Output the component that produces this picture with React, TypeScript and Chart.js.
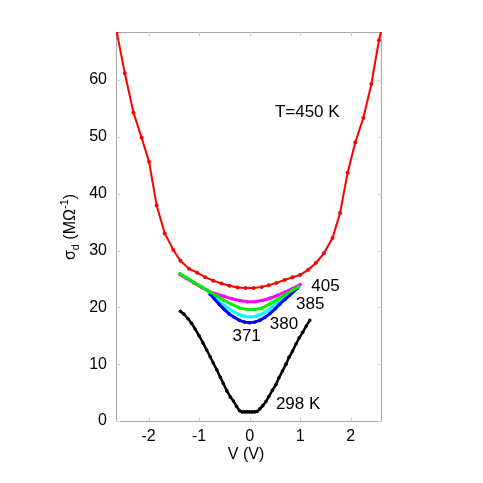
import React, { useEffect, useRef } from "react";
import { Chart, registerables } from "chart.js";

Chart.register(...registerables);

// T = 450 K
const v450 = [-2.63, -2.47, -2.30, -2.14, -1.99, -1.84, -1.68, -1.51, -1.37, -1.20, -1.04, -0.88, -0.72, -0.56, -0.40, -0.24, -0.08, 0.08, 0.24, 0.38, 0.53, 0.69, 0.85, 1.00, 1.16, 1.31, 1.47, 1.64, 1.79, 1.94, 2.09, 2.25, 2.41, 2.56, 2.68];
const s450 = [68.4, 61.2, 54.3, 49.9, 45.6, 37.9, 33.0, 30.1, 28.2, 26.8, 26.1, 25.3, 24.7, 24.2, 23.8, 23.5, 23.4, 23.4, 23.6, 23.9, 24.3, 24.8, 25.3, 25.7, 26.6, 27.8, 29.5, 32.2, 36.6, 43.7, 49.0, 53.3, 59.3, 67.0, 71.5];

// T = 405 K
const v405 = [-1.38, -1.25, -1.10, -0.95, -0.80, -0.65, -0.50, -0.35, -0.20, -0.05, 0.10, 0.25, 0.40, 0.55, 0.70, 0.85, 1.00];
const s405 = [25.8, 25.1, 24.3, 23.5, 22.8, 22.3, 21.9, 21.5, 21.2, 21.0, 21.0, 21.2, 21.6, 22.1, 22.7, 23.3, 24.0];

// T = 385 K
const v385 = [-1.38, -1.25, -1.10, -0.95, -0.80, -0.65, -0.50, -0.35, -0.20, -0.05, 0.10, 0.25, 0.40, 0.55, 0.70, 0.85, 0.97];
const s385 = [25.9, 25.2, 24.4, 23.6, 22.8, 22.0, 21.2, 20.5, 19.9, 19.6, 19.6, 19.9, 20.6, 21.4, 22.2, 23.0, 23.6];

// T = 380 K
const v380 = [-0.80, -0.70, -0.60, -0.50, -0.40, -0.30, -0.20, -0.10, 0.00, 0.10, 0.20, 0.30, 0.40, 0.50, 0.60, 0.70, 0.80, 0.95];
const s380 = [22.5, 21.8, 21.0, 20.3, 19.7, 19.1, 18.7, 18.4, 18.3, 18.4, 18.7, 19.1, 19.7, 20.4, 21.1, 21.8, 22.5, 23.4];

// T = 371 K
const v371 = [-0.78, -0.70, -0.60, -0.50, -0.40, -0.30, -0.20, -0.10, 0.00, 0.10, 0.20, 0.30, 0.40, 0.50, 0.60, 0.70, 0.80, 0.95];
const s371 = [22.3, 21.5, 20.5, 19.6, 18.8, 18.2, 17.7, 17.4, 17.3, 17.4, 17.7, 18.2, 18.9, 19.7, 20.6, 21.4, 22.2, 23.4];

// T = 298 K
const v298 = [-1.37, -1.30, -1.22, -1.15, -1.08, -1.00, -0.92, -0.85, -0.78, -0.72, -0.65, -0.58, -0.52, -0.45, -0.38, -0.32, -0.26, -0.20, -0.15, -0.10, -0.05, 0.00, 0.05, 0.10, 0.15, 0.20, 0.26, 0.32, 0.38, 0.45, 0.52, 0.58, 0.65, 0.72, 0.78, 0.85, 0.92, 0.98, 1.05, 1.12, 1.19];
const s298 = [19.3, 18.8, 18.0, 17.2, 16.2, 15.0, 13.7, 12.5, 11.3, 10.2, 9.0, 7.7, 6.6, 5.3, 4.2, 3.5, 2.6, 1.8, 1.6, 1.6, 1.6, 1.6, 1.6, 1.6, 1.7, 2.1, 2.7, 3.4, 4.3, 5.4, 6.4, 7.6, 8.8, 10.0, 11.2, 12.3, 13.6, 14.6, 15.6, 16.7, 17.7];

const xTicks = [-2, -1, 0, 1, 2];
const yTicks = [0, 10, 20, 30, 40, 50, 60];

const curveLabels = ["T=450 K", "405", "385", "380", "371", "298 K"];
const curveLabelAt: [number, number][] = [
  [0.5, 54.4],
  [1.22, 23.7],
  [0.92, 20.6],
  [0.4, 17.1],
  [-0.34, 14.9],
  [0.52, 2.9],
];

const FONT = "'Liberation Sans', Arial, Helvetica, sans-serif";

export default function App() {
  const ref = useRef<HTMLCanvasElement>(null);

  useEffect(() => {
    if (!ref.current) return;
    const pts = (xs: number[], ys: number[]) => xs.map((x, i) => ({ x, y: ys[i] }));

    const framePlugin = {
      id: "frame",
      beforeDatasetsDraw(chart: any) {
        const { ctx, chartArea: a, scales } = chart;
        ctx.save();
        ctx.strokeStyle = "#a8a8a8";
        ctx.lineWidth = 1;
        ctx.strokeRect(Math.round(a.left) + 0.5, Math.round(a.top) + 0.5, Math.round(a.right - a.left) - 1, Math.round(a.bottom - a.top));
        ctx.strokeStyle = "#d0d0d0";
        ctx.beginPath();
        for (const v of xTicks) {
          const x = Math.round(scales.x.getPixelForValue(v)) + 0.5;
          ctx.moveTo(x, a.bottom);
          ctx.lineTo(x, a.bottom - 4);
          ctx.moveTo(x, a.top);
          ctx.lineTo(x, a.top + 4);
        }
        for (const v of yTicks) {
          const y = Math.round(scales.y.getPixelForValue(v)) + 0.5;
          ctx.moveTo(a.left, y);
          ctx.lineTo(a.left + 4, y);
          ctx.moveTo(a.right, y);
          ctx.lineTo(a.right - 4, y);
        }
        ctx.stroke();
        ctx.restore();
      },
      afterDraw(chart: any) {
        const { ctx, scales } = chart;
        ctx.save();
        ctx.fillStyle = "#000";
        ctx.textBaseline = "middle";
        ctx.textAlign = "left";
        ctx.font = `17px ${FONT}`;
        curveLabels.forEach((t, i) => {
          const [vx, vy] = curveLabelAt[i];
          ctx.fillText(t, scales.x.getPixelForValue(vx), scales.y.getPixelForValue(vy));
        });
        // x title
        ctx.textAlign = "center";
        ctx.font = `16px ${FONT}`;
        ctx.fillText("V (V)", 246, 455);
        // y title with sub/superscript
        ctx.translate(75, 227);
        ctx.rotate(-Math.PI / 2);
        ctx.textAlign = "left";
        ctx.textBaseline = "alphabetic";
        const big = `16px ${FONT}`;
        const small = `11px ${FONT}`;
        const parts: [string, string, number][] = [
          ["σ", big, 0],
          ["d", small, 4],
          [" (MΩ", big, 0],
          ["-1", small, -7],
          [")", big, 0],
        ];
        let w = 0;
        for (const [t, f] of parts) {
          ctx.font = f;
          w += ctx.measureText(t).width;
        }
        let x = -w / 2;
        for (const [t, f, dy] of parts) {
          ctx.font = f;
          ctx.fillText(t, x, dy);
          x += ctx.measureText(t).width;
        }
        ctx.restore();
      },
    };

    const line = (data: any[], color: string, bw: number, pr: number, order: number) => ({
      data,
      borderColor: color,
      backgroundColor: color,
      borderWidth: bw,
      pointRadius: pr,
      pointBorderWidth: 0,
      pointHoverRadius: pr,
      tension: 0,
      order,
    });

    const chart = new Chart(ref.current, {
      type: "line",
      data: {
        datasets: [
          line(pts(v450, s450), "#ff0000", 2, 2, 5),
          line(pts(v405, s405), "#ff00ff", 3, 1.8, 4),
          line(pts(v385, s385), "#00ee00", 3, 1.8, 1),
          line(pts(v380, s380), "#00ffff", 3, 1.8, 3),
          line(pts(v371, s371), "#0000ff", 3, 1.8, 2),
          line(pts(v298, s298), "#000000", 2.5, 1.8, 0),
        ],
      },
      plugins: [framePlugin],
      options: {
        animation: false,
        responsive: false,
        layout: { padding: { left: 0, top: 32, right: 101, bottom: 0 } },
        plugins: { legend: { display: false }, tooltip: { enabled: false } },
        scales: {
          x: {
            type: "linear",
            min: -2.645,
            max: 2.62,
            grid: { display: false, drawTicks: false },
            border: { display: false },
            afterBuildTicks: (s: any) => {
              s.ticks = xTicks.map((v) => ({ value: v }));
            },
            afterFit: (s: any) => {
              s.height = 62;
            },
            ticks: { color: "#000", font: { family: FONT, size: 16 }, padding: 6, maxRotation: 0 },
          },
          y: {
            type: "linear",
            min: 0,
            max: 68.45,
            grid: { display: false, drawTicks: false },
            border: { display: false },
            afterBuildTicks: (s: any) => {
              s.ticks = yTicks.map((v) => ({ value: v }));
            },
            afterFit: (s: any) => {
              s.width = 116;
            },
            ticks: { color: "#000", font: { family: FONT, size: 16 }, padding: 9 },
          },
        },
      },
    });
    return () => chart.destroy();
  }, []);

  return (
    <div style={{ position: "absolute", left: 0, top: 0, width: 483, height: 483, background: "#fff" }}>
      <canvas ref={ref} width={483} height={483} style={{ display: "block" }} />
    </div>
  );
}
